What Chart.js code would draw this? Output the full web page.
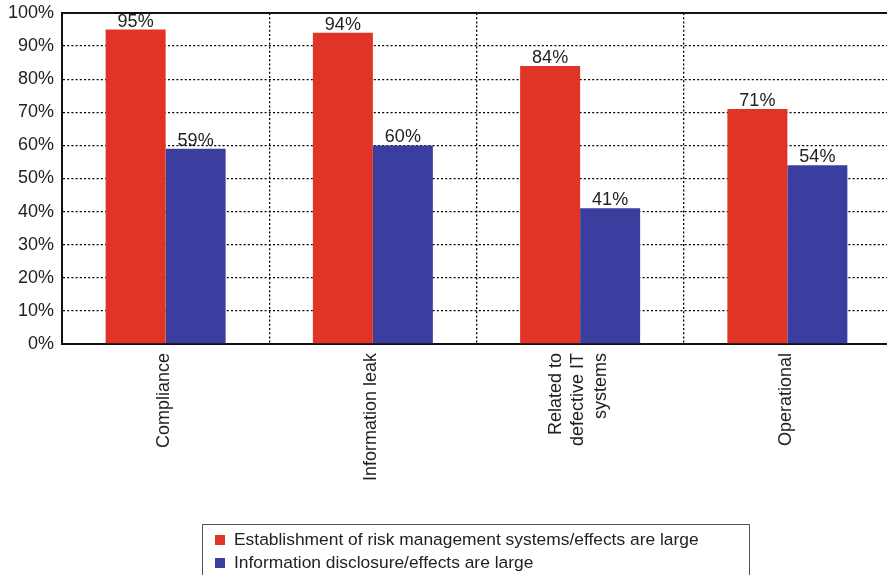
<!DOCTYPE html>
<html>
<head>
<meta charset="utf-8">
<script src="https://cdn.jsdelivr.net/npm/chart.js@4/dist/chart.umd.min.js"></script>
<style>
  html, body { margin: 0; padding: 0; background: #fff; }
  .wrap { position: relative; width: 887px; height: 575px; overflow: hidden; }
  #riskChart { position: absolute; left: 0; top: 0; }
  .legend-box {
    position: absolute; left: 202px; top: 524px; width: 548px; height: 70px;
    border: 1px solid #555; box-sizing: border-box;
    font-family: "Liberation Sans", Arial, sans-serif; font-size: 17.4px; color: #222;
  }
  .legend-item { position: absolute; left: 12px; height: 23px; line-height: 23px; white-space: nowrap; }
  .legend-item span { display: inline-block; width: 10px; height: 10px; margin-right: 9px; vertical-align: 0px; }
</style>
</head>
<body>
<div class="wrap">
  <canvas id="riskChart" width="892" height="575"></canvas>
  <div class="legend-box" id="legend"></div>
</div>
<script>
// categories and series
// (a leading blank line keeps single-line labels centred on their tick
//  once the whole axis is shifted back by one line with labelOffset)
const categories = [
  ['', 'Compliance'],
  ['', 'Information leak'],
  ['Related to', 'defective IT', 'systems'],
  ['', 'Operational']
];
const riskSystems = [95, 94, 84, 71];
const disclosure = [59, 60, 41, 54];
const seriesNames = [
  'Establishment of risk management systems/effects are large',
  'Information disclosure/effects are large'
];
const seriesColors = ['#e03426', '#3a3f9f'];
const yTicks = [0, 10, 20, 30, 40, 50, 60, 70, 80, 90, 100];

const fontFamily = '"Liberation Sans", Arial, sans-serif';

// percent labels above each bar
const valueLabels = {
  id: 'valueLabels',
  afterDatasetsDraw(chart) {
    const ctx = chart.ctx;
    ctx.save();
    ctx.font = '18px ' + fontFamily;
    ctx.fillStyle = '#222';
    ctx.textAlign = 'center';
    ctx.textBaseline = 'alphabetic';
    chart.data.datasets.forEach((ds, i) => {
      chart.getDatasetMeta(i).data.forEach((bar, j) => {
        ctx.fillText(ds.data[j] + '%', bar.x, bar.y - 3);
      });
    });
    ctx.restore();
  }
};

new Chart(document.getElementById('riskChart'), {
  type: 'bar',
  data: {
    labels: categories,
    datasets: [
      { label: seriesNames[0], data: riskSystems, backgroundColor: seriesColors[0] },
      { label: seriesNames[1], data: disclosure, backgroundColor: seriesColors[1] }
    ]
  },
  options: {
    responsive: false,
    animation: false,
    events: [],
    categoryPercentage: 0.579,
    barPercentage: 1,
    layout: { padding: { top: 13, right: 1, bottom: 81, left: 0 } },
    plugins: {
      legend: { display: false },
      tooltip: { enabled: false }
    },
    scales: {
      x: {
        grid: { color: '#000', lineWidth: 1.3, drawTicks: false },
        border: { color: '#111', width: 2, dash: [2, 2.2] },
        ticks: {
          color: '#222',
          font: { family: fontFamily, size: 18, lineHeight: 1.24 },
          maxRotation: 90,
          minRotation: 90,
          padding: 9,
          labelOffset: -24
        },
        afterFit(scale) { scale.height = 150; }
      },
      xTop: {
        position: 'top',
        grid: { display: false },
        border: { color: '#111', width: 2 },
        ticks: { display: false },
        afterFit(scale) { scale.height = 0; }
      },
      y: {
        min: 0,
        max: 100,
        grid: {
          color: ctx => (ctx.tick && (ctx.tick.value === 0 || ctx.tick.value === 100)) ? 'rgba(0,0,0,0)' : '#000',
          lineWidth: 1.3,
          drawTicks: false
        },
        border: { color: '#111', width: 2, dash: [2, 2.2] },
        afterBuildTicks(scale) { scale.ticks = yTicks.map(v => ({ value: v })); },
        ticks: {
          color: '#222',
          font: { family: fontFamily, size: 18, lineHeight: 0.5 },
          padding: 8,
          callback: v => v + '%'
        },
        afterFit(scale) { scale.width = 62; }
      }
    }
  },
  plugins: [valueLabels]
});

// legend entries below the chart
const legend = document.getElementById('legend');
seriesNames.forEach((name, i) => {
  const item = document.createElement('div');
  item.className = 'legend-item';
  item.style.top = (3 + i * 23) + 'px';
  const sw = document.createElement('span');
  sw.style.background = seriesColors[i];
  item.appendChild(sw);
  item.appendChild(document.createTextNode(name));
  legend.appendChild(item);
});
</script>
</body>
</html>
